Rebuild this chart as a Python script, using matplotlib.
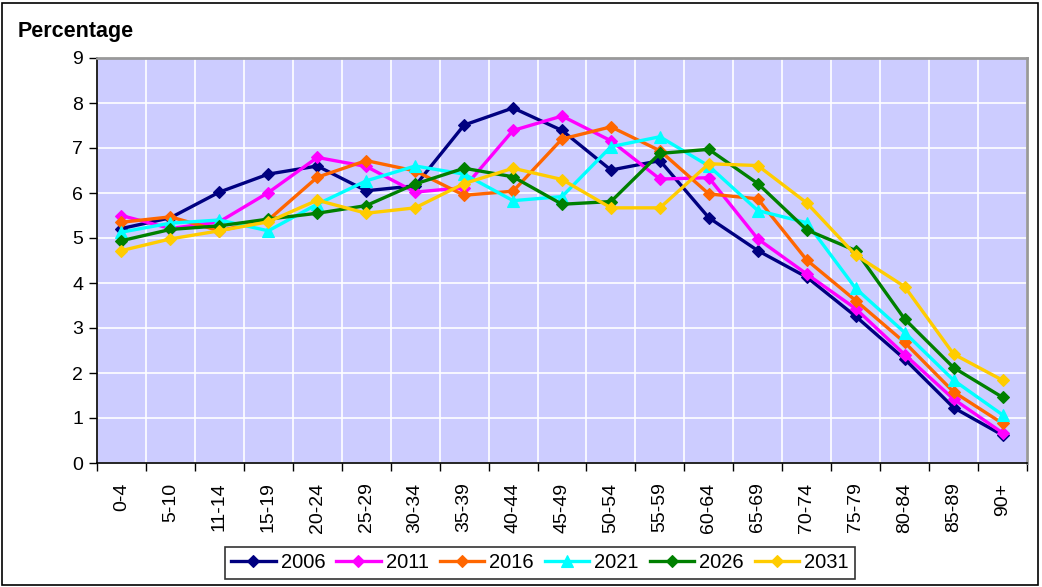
import matplotlib
matplotlib.use("Agg")
import matplotlib.pyplot as plt
from matplotlib.patches import Rectangle
import numpy as np

plt.rcParams["font.family"] = ["Liberation Sans", "DejaVu Sans"]

age_groups = ["0-4", "5-10", "11-14", "15-19", "20-24", "25-29", "30-34",
              "35-39", "40-44", "45-49", "50-54", "55-59", "60-64", "65-69",
              "70-74", "75-79", "80-84", "85-89", "90+"]

y2006 = [5.21, 5.45, 6.02, 6.42, 6.60, 6.05, 6.16, 7.51, 7.89, 7.39, 6.51,
         6.72, 5.45, 4.72, 4.13, 3.26, 2.31, 1.23, 0.62]
y2011 = [5.50, 5.21, 5.36, 6.01, 6.79, 6.59, 6.02, 6.12, 7.39, 7.71, 7.16,
         6.31, 6.34, 4.98, 4.20, 3.43, 2.41, 1.42, 0.67]
y2016 = [5.35, 5.47, 5.16, 5.40, 6.35, 6.72, 6.49, 5.95, 6.04, 7.20, 7.47,
         6.94, 5.98, 5.87, 4.51, 3.61, 2.68, 1.58, 0.88]
y2021 = [5.13, 5.33, 5.40, 5.16, 5.75, 6.27, 6.60, 6.42, 5.83, 5.92, 7.03,
         7.25, 6.60, 5.61, 5.34, 3.88, 2.90, 1.84, 1.07]
y2026 = [4.94, 5.19, 5.27, 5.42, 5.55, 5.72, 6.20, 6.55, 6.36, 5.75, 5.81,
         6.88, 6.97, 6.21, 5.18, 4.72, 3.20, 2.12, 1.46]
y2031 = [4.72, 4.98, 5.16, 5.36, 5.84, 5.55, 5.67, 6.21, 6.55, 6.30, 5.67,
         5.67, 6.65, 6.61, 5.78, 4.62, 3.92, 2.42, 1.84]

series = [
    ("2006", y2006, "#000080", "D"),
    ("2011", y2011, "#FF00FF", "D"),
    ("2016", y2016, "#FF6600", "D"),
    ("2021", y2021, "#00FFFF", "^"),
    ("2026", y2026, "#008000", "D"),
    ("2031", y2031, "#FFCC00", "D"),
]

W, H = 1042, 587
fig = plt.figure(figsize=(W / 100, H / 100), dpi=100)
fig.patch.set_facecolor("white")

# outer chart border
fig.add_artist(Rectangle((2 / W, 2 / H), (W - 6) / W, (H - 5) / H,
                         transform=fig.transFigure, fill=False,
                         edgecolor="black", linewidth=1.2))

left, right, top, bottom = 97, 1027, 58, 463
ax = fig.add_axes([left / W, 1 - bottom / H, (right - left) / W, (bottom - top) / H])
ax.set_facecolor("#CCCCFF")

x = np.arange(len(age_groups))
for name, vals, color, mk in series:
    ax.plot(x, vals, color=color, linewidth=2.4, marker=mk,
            markersize=6.5 if mk == "D" else 8, markeredgewidth=0.8,
            markeredgecolor=color, label=name, zorder=3)

tick_fs = 14
ax.set_xlim(-0.5, len(age_groups) - 0.5)
ax.set_ylim(0, 9)
ax.set_yticks(range(0, 10))
ax.set_yticklabels([str(v) for v in range(0, 10)], fontsize=tick_fs)

# category labels centered; ticks and gridlines on bin edges
ax.set_xticks(x)
ax.set_xticklabels(age_groups, rotation=90, fontsize=tick_fs)
ax.tick_params(axis="x", which="major", length=0, pad=14)
ax.set_xticks(np.arange(-0.5, len(age_groups), 1.0), minor=True)
ax.tick_params(axis="x", which="minor", length=6, width=1, direction="out")
ax.tick_params(axis="y", length=6, width=1, direction="out", pad=4)

ax.grid(True, which="major", axis="y", color="white", linewidth=1.2)
ax.grid(True, which="minor", axis="x", color="white", linewidth=1.2)
ax.set_axisbelow(True)

ax.spines["left"].set_color("black")
ax.spines["bottom"].set_color("black")
ax.spines["left"].set_linewidth(1.2)
ax.spines["bottom"].set_linewidth(1.2)
ax.spines["top"].set_color("#999999")
ax.spines["right"].set_color("#999999")
ax.spines["top"].set_linewidth(2)
ax.spines["right"].set_linewidth(2)

fig.text(18 / W, 1 - 31 / H, "Percentage", fontsize=15.5, fontweight="bold",
         ha="left", va="center")

leg = fig.legend(loc="center", bbox_to_anchor=(540 / W, 1 - 563 / H),
                 ncol=6, fontsize=14.5, frameon=True, fancybox=False,
                 edgecolor="black", handlelength=2.2, handletextpad=0.25,
                 columnspacing=0.55, borderpad=0.3)
leg.get_frame().set_linewidth(1.2)

fig.savefig("out.png", dpi=100, facecolor="white")
